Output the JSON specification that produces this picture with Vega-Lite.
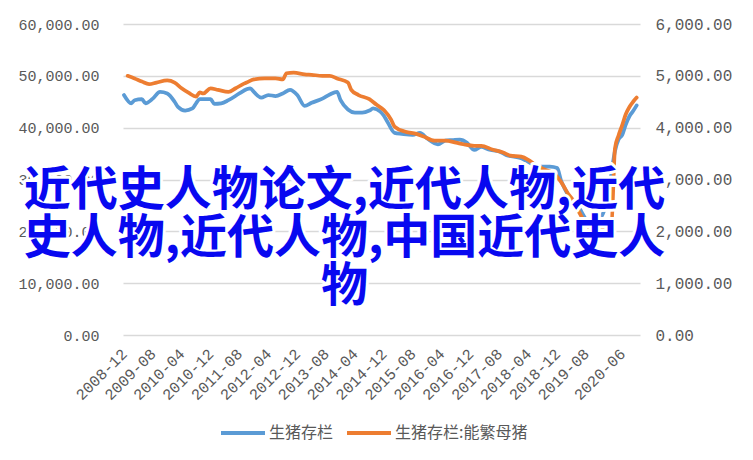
{
  "$schema": "https://vega.github.io/schema/vega-lite/v6.json",
  "width": 517,
  "height": 311,
  "autosize": {"type": "none"},
  "padding": {"left": 123, "top": 24, "right": 113, "bottom": 125},
  "background": "white",
  "config": {"view": {"stroke": null}, "font": "Liberation Mono", "axisX": {"labelOverlap": false, "labelSeparation": 0}},
  "datasets": {
    "hogs": [
      {"month": "2008-12-01", "value": 46300},
      {"month": "2009-02-01", "value": 44700},
      {"month": "2009-03-01", "value": 45300},
      {"month": "2009-05-01", "value": 45500},
      {"month": "2009-06-01", "value": 44700},
      {"month": "2009-08-01", "value": 45600},
      {"month": "2009-10-01", "value": 46900},
      {"month": "2009-12-01", "value": 46600},
      {"month": "2010-02-01", "value": 45000},
      {"month": "2010-03-01", "value": 44000},
      {"month": "2010-05-01", "value": 43300},
      {"month": "2010-07-01", "value": 43700},
      {"month": "2010-08-01", "value": 44700},
      {"month": "2010-09-01", "value": 45500},
      {"month": "2010-12-01", "value": 45500},
      {"month": "2011-01-01", "value": 44600},
      {"month": "2011-03-01", "value": 44700},
      {"month": "2011-05-01", "value": 45300},
      {"month": "2011-08-01", "value": 46600},
      {"month": "2011-10-01", "value": 47400},
      {"month": "2011-11-01", "value": 47600},
      {"month": "2011-12-01", "value": 46900},
      {"month": "2012-02-01", "value": 45800},
      {"month": "2012-04-01", "value": 46300},
      {"month": "2012-06-01", "value": 46100},
      {"month": "2012-08-01", "value": 46600},
      {"month": "2012-10-01", "value": 47300},
      {"month": "2012-12-01", "value": 46300},
      {"month": "2013-02-01", "value": 44200},
      {"month": "2013-04-01", "value": 44800},
      {"month": "2013-07-01", "value": 45600},
      {"month": "2013-09-01", "value": 46400},
      {"month": "2013-11-01", "value": 46900},
      {"month": "2013-12-01", "value": 45300},
      {"month": "2014-02-01", "value": 43500},
      {"month": "2014-04-01", "value": 42900},
      {"month": "2014-06-01", "value": 42900},
      {"month": "2014-08-01", "value": 43300},
      {"month": "2014-09-01", "value": 43700},
      {"month": "2014-11-01", "value": 43100},
      {"month": "2014-12-01", "value": 42300},
      {"month": "2015-01-01", "value": 41100},
      {"month": "2015-03-01", "value": 39000},
      {"month": "2015-05-01", "value": 38800},
      {"month": "2015-08-01", "value": 38600},
      {"month": "2015-10-01", "value": 39000},
      {"month": "2015-12-01", "value": 37900},
      {"month": "2016-03-01", "value": 36800},
      {"month": "2016-05-01", "value": 37500},
      {"month": "2016-07-01", "value": 37600},
      {"month": "2016-09-01", "value": 37700},
      {"month": "2016-11-01", "value": 37100},
      {"month": "2017-01-01", "value": 35700},
      {"month": "2017-03-01", "value": 36300},
      {"month": "2017-05-01", "value": 35800},
      {"month": "2017-08-01", "value": 35400},
      {"month": "2017-10-01", "value": 34700},
      {"month": "2018-02-01", "value": 34100},
      {"month": "2018-04-01", "value": 33400},
      {"month": "2018-07-01", "value": 32500},
      {"month": "2018-10-01", "value": 32500},
      {"month": "2018-12-01", "value": 32200},
      {"month": "2019-01-01", "value": 29900},
      {"month": "2019-02-01", "value": 28300},
      {"month": "2019-04-01", "value": 26000},
      {"month": "2019-06-01", "value": 24600},
      {"month": "2019-08-01", "value": 22300},
      {"month": "2019-10-01", "value": 21000},
      {"month": "2019-11-01", "value": 21500},
      {"month": "2019-12-01", "value": 22500},
      {"month": "2020-01-01", "value": 24000},
      {"month": "2020-02-01", "value": 26500},
      {"month": "2020-03-01", "value": 31000},
      {"month": "2020-04-01", "value": 35500},
      {"month": "2020-05-01", "value": 37700},
      {"month": "2020-06-01", "value": 38600},
      {"month": "2020-07-01", "value": 40600},
      {"month": "2020-08-01", "value": 42200},
      {"month": "2020-09-01", "value": 43200},
      {"month": "2020-10-01", "value": 44300}
    ],
    "sows": [
      {"month": "2009-01-01", "value": 5000},
      {"month": "2009-03-01", "value": 4950},
      {"month": "2009-05-01", "value": 4890},
      {"month": "2009-07-01", "value": 4840},
      {"month": "2009-09-01", "value": 4870},
      {"month": "2009-12-01", "value": 4910},
      {"month": "2010-02-01", "value": 4870},
      {"month": "2010-04-01", "value": 4760},
      {"month": "2010-06-01", "value": 4670},
      {"month": "2010-08-01", "value": 4600},
      {"month": "2010-09-01", "value": 4680},
      {"month": "2010-10-01", "value": 4660},
      {"month": "2010-12-01", "value": 4760},
      {"month": "2011-02-01", "value": 4730},
      {"month": "2011-05-01", "value": 4690},
      {"month": "2011-07-01", "value": 4760},
      {"month": "2011-09-01", "value": 4840},
      {"month": "2011-10-01", "value": 4870},
      {"month": "2011-12-01", "value": 4930},
      {"month": "2012-03-01", "value": 4950},
      {"month": "2012-06-01", "value": 4950},
      {"month": "2012-08-01", "value": 4930},
      {"month": "2012-09-01", "value": 5050},
      {"month": "2012-11-01", "value": 5060},
      {"month": "2013-02-01", "value": 5030},
      {"month": "2013-04-01", "value": 5020},
      {"month": "2013-07-01", "value": 5000},
      {"month": "2013-09-01", "value": 5000},
      {"month": "2013-11-01", "value": 4950},
      {"month": "2014-02-01", "value": 4870},
      {"month": "2014-03-01", "value": 4730},
      {"month": "2014-05-01", "value": 4630},
      {"month": "2014-08-01", "value": 4550},
      {"month": "2014-10-01", "value": 4440},
      {"month": "2014-12-01", "value": 4340},
      {"month": "2015-02-01", "value": 4150},
      {"month": "2015-03-01", "value": 4020},
      {"month": "2015-06-01", "value": 3920},
      {"month": "2015-09-01", "value": 3880},
      {"month": "2015-11-01", "value": 3830},
      {"month": "2016-02-01", "value": 3750},
      {"month": "2016-05-01", "value": 3750},
      {"month": "2016-08-01", "value": 3710},
      {"month": "2016-10-01", "value": 3680},
      {"month": "2017-01-01", "value": 3650},
      {"month": "2017-03-01", "value": 3650},
      {"month": "2017-06-01", "value": 3580},
      {"month": "2017-09-01", "value": 3520},
      {"month": "2017-11-01", "value": 3460},
      {"month": "2018-02-01", "value": 3440},
      {"month": "2018-04-01", "value": 3380},
      {"month": "2018-06-01", "value": 3280},
      {"month": "2018-09-01", "value": 3180},
      {"month": "2018-11-01", "value": 3120},
      {"month": "2019-01-01", "value": 2960},
      {"month": "2019-03-01", "value": 2730},
      {"month": "2019-05-01", "value": 2540},
      {"month": "2019-06-01", "value": 2380},
      {"month": "2019-08-01", "value": 2150},
      {"month": "2019-09-01", "value": 2060},
      {"month": "2019-10-01", "value": 2040},
      {"month": "2019-12-01", "value": 2040},
      {"month": "2020-02-01", "value": 2050},
      {"month": "2020-03-01", "value": 2080},
      {"month": "2020-04-01", "value": 3600},
      {"month": "2020-05-01", "value": 3850},
      {"month": "2020-06-01", "value": 4050},
      {"month": "2020-07-01", "value": 4260},
      {"month": "2020-08-01", "value": 4400},
      {"month": "2020-09-01", "value": 4500},
      {"month": "2020-10-01", "value": 4580}
    ]
  },
  "layer": [
    {
      "data": {"name": "hogs"},
      "mark": {"type": "line", "strokeWidth": 3.75, "strokeCap": "round", "strokeJoin": "round", "interpolate": "monotone"},
      "encoding": {
        "x": {
          "field": "month", "type": "temporal",
          "scale": {"type": "utc", "domain": [{"year": 2008, "month": 11, "date": 23, "utc": true}, {"year": 2020, "month": 10, "date": 29, "utc": true}]},
          "axis": {
            "title": null,
            "tickCount": 40,
            "values": [
              {"year": 2008, "month": 12, "date": 1, "utc": true},
              {"year": 2009, "month": 8, "date": 1, "utc": true},
              {"year": 2010, "month": 4, "date": 1, "utc": true},
              {"year": 2010, "month": 12, "date": 1, "utc": true},
              {"year": 2011, "month": 8, "date": 1, "utc": true},
              {"year": 2012, "month": 4, "date": 1, "utc": true},
              {"year": 2012, "month": 12, "date": 1, "utc": true},
              {"year": 2013, "month": 8, "date": 1, "utc": true},
              {"year": 2014, "month": 4, "date": 1, "utc": true},
              {"year": 2014, "month": 12, "date": 1, "utc": true},
              {"year": 2015, "month": 8, "date": 1, "utc": true},
              {"year": 2016, "month": 4, "date": 1, "utc": true},
              {"year": 2016, "month": 12, "date": 1, "utc": true},
              {"year": 2017, "month": 8, "date": 1, "utc": true},
              {"year": 2018, "month": 4, "date": 1, "utc": true},
              {"year": 2018, "month": 12, "date": 1, "utc": true},
              {"year": 2019, "month": 8, "date": 1, "utc": true},
              {"year": 2020, "month": 6, "date": 1, "utc": true}
            ],
            "format": "%Y-%m",
            "labelAngle": -45,
            "labelAlign": "right",
            "labelBaseline": "middle",
            "labelPadding": 16,
            "labelOverlap": false,
            "labelSeparation": 0,
            "labelFont": "Liberation Mono",
            "labelFontSize": 15.5,
            "labelColor": "#595959",
            "ticks": false,
            "domain": false,
            "grid": false
          }
        },
        "y": {
          "field": "value", "type": "quantitative",
          "scale": {"domain": [0, 60000], "nice": false},
          "axis": {
            "title": null,
            "values": [0, 10000, 20000, 30000, 40000, 50000, 60000],
            "format": ",.2f",
            "grid": true, "gridColor": "#d9d9d9", "gridWidth": 1.5,
            "domain": false, "ticks": false,
            "labelPadding": 24,
            "labelFont": "Liberation Mono", "labelFontSize": 15, "labelColor": "#595959"
          }
        },
        "color": {
          "datum": "生猪存栏", "type": "nominal",
          "scale": {"domain": ["生猪存栏", "生猪存栏:能繁母猪"], "range": ["#5B9BD5", "#ED7D31"]},
          "legend": {
            "title": null, "orient": "none", "legendX": 96, "legendY": 385, "direction": "horizontal",
            "symbolType": "stroke", "symbolStrokeWidth": 4, "symbolSize": 1936,
            "labelFont": "Noto Sans CJK SC", "labelFontSize": 16, "labelColor": "#595959",
            "labelOffset": 2, "columnPadding": 5
          }
        }
      }
    },
    {
      "data": {"name": "sows"},
      "mark": {"type": "line", "strokeWidth": 3.75, "strokeCap": "round", "strokeJoin": "round", "interpolate": "monotone"},
      "encoding": {
        "x": {"field": "month", "type": "temporal"},
        "y": {
          "field": "value", "type": "quantitative",
          "scale": {"domain": [0, 6000], "nice": false},
          "axis": {
            "title": null, "orient": "right",
            "values": [0, 1000, 2000, 3000, 4000, 5000, 6000],
            "format": ",.2f",
            "grid": false, "domain": false, "ticks": false,
            "labelPadding": 15,
            "labelFont": "Liberation Mono", "labelFontSize": 16, "labelColor": "#595959"
          }
        },
        "color": {"datum": "生猪存栏:能繁母猪", "type": "nominal"}
      }
    },
    {
      "data": {"values": [{}]},
      "encoding": {
        "x": {"datum": {"year": 2014, "month": 1, "date": 3, "utc": true}, "type": "temporal"},
        "y": {"datum": 27800, "type": "quantitative", "scale": {"domain": [0, 60000], "nice": false}, "axis": null}
      },
      "layer": [
        {
          "mark": {
            "type": "text",
            "text": ["近代史人物论文,近代人物,近代", "史人物,近代人物,中国近代史人", "物"],
            "font": "Noto Sans CJK SC", "fontSize": 47, "fontWeight": "bold", "lineHeight": 48,
            "align": "center", "baseline": "middle",
            "fill": "white", "stroke": "white", "strokeWidth": 6, "strokeJoin": "round"
          }
        },
        {
          "mark": {
            "type": "text",
            "text": ["近代史人物论文,近代人物,近代", "史人物,近代人物,中国近代史人", "物"],
            "font": "Noto Sans CJK SC", "fontSize": 47, "fontWeight": "bold", "lineHeight": 48,
            "align": "center", "baseline": "middle",
            "fill": "#0808f0"
          }
        }
      ]
    }
  ],
  "resolve": {"scale": {"y": "independent"}}
}
